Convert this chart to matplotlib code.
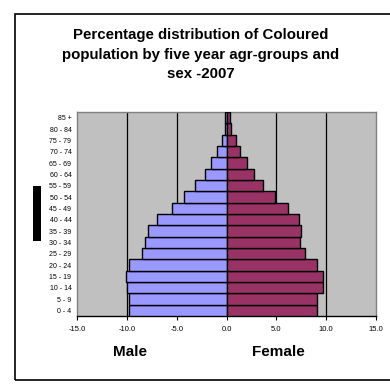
import matplotlib
matplotlib.use("Agg")
import matplotlib.pyplot as plt
from matplotlib.patches import Rectangle

plt.rcParams['font.family'] = ['Liberation Sans', 'DejaVu Sans']

age_groups = ["0 - 4", "5 - 9", "10 - 14", "15 - 19", "20 - 24", "25 - 29", "30 - 34",
              "35 - 39", "40 - 44", "45 - 49", "50 - 54", "55 - 59", "60 - 64",
              "65 - 69", "70 - 74", "75 - 79", "80 - 84", "85 +"]
male = [9.8, 9.8, 9.95, 10.1, 9.8, 8.5, 8.2, 7.85, 7.0, 5.5, 4.25, 3.2, 2.2,
        1.55, 1.0, 0.47, 0.2, 0.2]
female = [9.1, 9.1, 9.7, 9.7, 9.1, 7.9, 7.4, 7.5, 7.25, 6.2, 4.9, 3.7, 2.8,
          2.1, 1.4, 1.0, 0.47, 0.34]
x_ticks = [-15, -10, -5, 0, 5, 10, 15]

W, H = 390, 388
fig = plt.figure(figsize=(W / 100, H / 100), dpi=100)
fig.patch.set_facecolor("white")

# outer chart frame
fig.patches.append(Rectangle((15 / W, 1 - 380 / H), (W + 5 - 15) / W, (380 - 14) / H,
                             transform=fig.transFigure, fill=False,
                             edgecolor="black", linewidth=1.2))
# black marker block on the left
fig.patches.append(Rectangle((33 / W, 1 - 241 / H), 8 / W, 55 / H,
                             transform=fig.transFigure, facecolor="black",
                             edgecolor="black", linewidth=0))

ax = fig.add_axes([77 / W, 1 - 316 / H, (376 - 77) / W, (316 - 112) / H])
ax.set_facecolor("#C0C0C0")

y = range(len(age_groups))
ax.barh(y, [-m for m in male], height=1.0, color="#9999FF",
        edgecolor="black", linewidth=1.0, zorder=3)
ax.barh(y, female, height=1.0, color="#993366",
        edgecolor="black", linewidth=1.0, zorder=3)

for v in [-10, -5, 5, 10]:
    ax.axvline(v, color="black", linewidth=0.9, zorder=1)

ax.set_xlim(-15, 15)
ax.set_ylim(-0.5, len(age_groups) - 0.5)
ax.set_xticks(x_ticks)
ax.set_xticklabels([f"{t:.1f}" for t in x_ticks], fontsize=5.5)
ax.set_yticks(list(y))
ax.set_yticklabels(age_groups, fontsize=5)
ax.tick_params(axis="y", length=0, pad=4)
ax.tick_params(axis="x", length=3, width=0.8, direction="out", pad=4)

for side in ["left", "top", "right"]:
    ax.spines[side].set_color("#808080")
    ax.spines[side].set_linewidth(1.0)
ax.spines["bottom"].set_color("black")
ax.spines["bottom"].set_linewidth(1.0)

fig.text(201 / W, 1 - 35 / H, "Percentage distribution of Coloured",
         ha="center", va="center", fontsize=10.8, fontweight="bold")
fig.text(201 / W, 1 - 55 / H, "population by five year agr-groups and",
         ha="center", va="center", fontsize=10.8, fontweight="bold")
fig.text(201 / W, 1 - 74 / H, "sex -2007",
         ha="center", va="center", fontsize=10.8, fontweight="bold")

fig.text(130 / W, 1 - 352 / H, "Male", ha="center", va="center",
         fontsize=11, fontweight="bold")
fig.text(278 / W, 1 - 352 / H, "Female", ha="center", va="center",
         fontsize=11, fontweight="bold")

fig.savefig("out.png", dpi=100)
